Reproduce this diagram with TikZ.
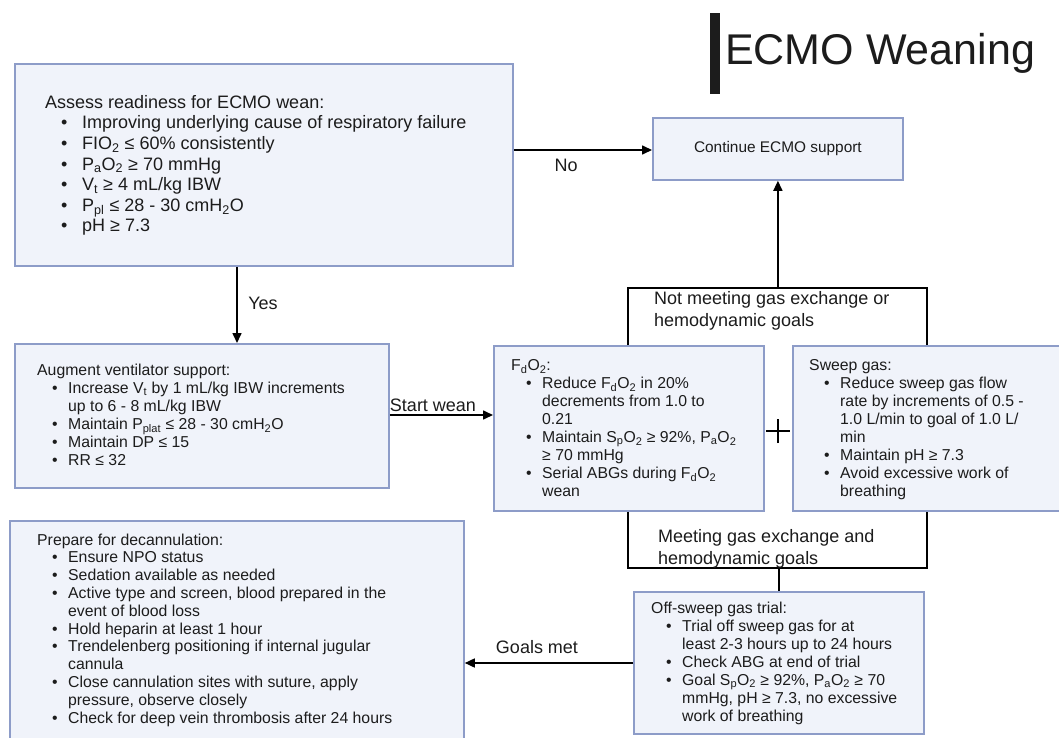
\documentclass[tikz,border=0pt]{standalone}
\usepackage{fontspec}
\setmainfont{Liberation Sans}
\usetikzlibrary{arrows.meta}
\definecolor{boxfill}{RGB}{240,243,250}
\definecolor{boxline}{RGB}{141,156,200}
\definecolor{ink}{RGB}{28,28,28}
\newlength\bulA
\newlength\bulB
\newcommand{\bul}{\makebox[\bulB][l]{\hspace*{\bulA}\textbullet}}
\newcommand{\bcont}{\hspace*{\bulB}}
\newcommand{\sbs}[1]{\textsubscript{#1}}
\begin{document}
\begin{tikzpicture}[x=1pt,y=-1pt,
  box/.style={draw=boxline, fill=boxfill, line width=1.8pt, inner sep=0pt, anchor=north west},
  conn/.style={line width=1.6pt, draw=black},
  arr/.style={conn, -{Triangle[length=10pt,width=9pt]}},
  lbl/.style={font=\fontsize{18}{21.5}\selectfont, inner sep=0pt, text=ink},
  lbltwo/.style={lbl, anchor=north west, align=left},
  bigtxt/.style={anchor=north west, inner sep=0pt, align=left, text=ink,
    font=\fontsize{18}{20.6}\selectfont,
    execute at begin node={\setlength\bulA{16pt}\setlength\bulB{37pt}}},
  smalltxt/.style={anchor=north west, inner sep=0pt, align=left, text=ink,
    font=\fontsize{15.8}{18}\selectfont,
    execute at begin node={\setlength\bulA{15pt}\setlength\bulB{31pt}}},
]
\useasboundingbox (0,0) rectangle (1059,738);
\fill[white] (0,0) rectangle (1059,738);
\clip (0,0) rectangle (1059,738);

% title
\node[fill=ink, minimum width=10pt, minimum height=81pt, inner sep=0pt, anchor=north west] (titlebar) at (710,13) {};
\node[anchor=base west, inner sep=0pt, font=\fontsize{43}{50}\selectfont, text=ink] (title) at (725,65) {ECMO Weaning};

% boxes
\node[box, minimum width=498pt, minimum height=202pt] (assess) at (14,63) {};
\node[box, minimum width=250pt, minimum height=62pt] (cont) at (652,117) {};
\node[box, minimum width=374pt, minimum height=144pt] (augment) at (14,343) {};
\node[box, minimum width=270pt, minimum height=165pt] (fdo) at (493,345) {};
\node[box, minimum width=280pt, minimum height=165pt] (sweep) at (792,345) {};
\node[box, minimum width=290pt, minimum height=142pt] (offsweep) at (633,591) {};
\node[box, minimum width=454pt, minimum height=230pt] (prep) at (9,520) {};

% box texts
\node[bigtxt] (assessT) at (45,93.6) {\strut Assess readiness for ECMO wean:\\
\bul Improving underlying cause of respiratory failure\\
\bul FIO\sbs{2} ≤ 60\% consistently\\
\bul P\sbs{a}O\sbs{2} ≥ 70 mmHg\\
\bul V\sbs{t} ≥ 4 mL/kg IBW\\
\bul P\sbs{pl} ≤ 28 - 30 cmH\sbs{2}O\\
\bul pH ≥ 7.3};

\node[anchor=center, inner sep=0pt, font=\fontsize{15.4}{18}\selectfont, text=ink] (contT) at (cont.center) {Continue ECMO support};

\node[smalltxt] (augmentT) at (37,362.5) {\strut Augment ventilator support:\\
\bul Increase V\sbs{t} by 1 mL/kg IBW increments\\
\bcont up to 6 - 8 mL/kg IBW\\
\bul Maintain P\sbs{plat} ≤ 28 - 30 cmH\sbs{2}O\\
\bul Maintain DP ≤ 15\\
\bul RR ≤ 32};

\node[smalltxt] (fdoT) at (511,357.5) {\strut F\sbs{d}O\sbs{2}:\\
\bul Reduce F\sbs{d}O\sbs{2} in 20\%\\
\bcont decrements from 1.0 to\\
\bcont 0.21\\
\bul Maintain S\sbs{p}O\sbs{2} ≥ 92\%, P\sbs{a}O\sbs{2}\\
\bcont ≥ 70 mmHg\\
\bul Serial ABGs during F\sbs{d}O\sbs{2}\\
\bcont wean};

\node[smalltxt] (sweepT) at (809,357.5) {\strut Sweep gas:\\
\bul Reduce sweep gas flow\\
\bcont rate by increments of 0.5 -\\
\bcont 1.0 L/min to goal of 1.0 L/\\
\bcont min\\
\bul Maintain pH ≥ 7.3\\
\bul Avoid excessive work of\\
\bcont breathing};

\node[smalltxt] (offsweepT) at (651,600.4) {\strut Off-sweep gas trial:\\
\bul Trial off sweep gas for at\\
\bcont least 2-3 hours up to 24 hours\\
\bul Check ABG at end of trial\\
\bul Goal S\sbs{p}O\sbs{2} ≥ 92\%, P\sbs{a}O\sbs{2} ≥ 70\\
\bcont mmHg, pH ≥ 7.3, no excessive\\
\bcont work of breathing};

\node[smalltxt, font=\fontsize{15.8}{17.8}\selectfont] (prepT) at (37,532.5) {\strut Prepare for decannulation:\\
\bul Ensure NPO status\\
\bul Sedation available as needed\\
\bul Active type and screen, blood prepared in the\\
\bcont event of blood loss\\
\bul Hold heparin at least 1 hour\\
\bul Trendelenberg positioning if internal jugular\\
\bcont cannula\\
\bul Close cannulation sites with suture, apply\\
\bcont pressure, observe closely\\
\bul Check for deep vein thrombosis after 24 hours};

% helper coordinates
\coordinate (noy) at (0,150);
\coordinate (yesx) at (237,0);
\coordinate (swy) at (0,415);
\coordinate (bl) at (628,0);
\coordinate (br) at (927,0);
\coordinate (nm) at (0,288);
\coordinate (mt) at (0,568);
\coordinate (gmy) at (0,663);
\coordinate (plus) at (778,431);

% connectors
\draw[arr] (assess.east |- noy) -- (cont.west |- noy);
\draw[arr] (assess.south -| yesx) -- (augment.north -| yesx);
\draw[arr] (augment.east |- swy) -- (fdo.west |- swy);
\draw[conn] (fdo.north -| bl) -- (bl |- nm) -- (br |- nm) -- (sweep.north -| br);
\draw[arr] (cont.south |- nm) -- (cont.south);
\draw[conn] (fdo.south -| bl) -- (bl |- mt) -- (br |- mt) -- (sweep.south -| br);
\draw[conn] (offsweep.north |- mt) -- (offsweep.north);
\draw[arr] (offsweep.west |- gmy) -- (prep.east |- gmy);

% plus sign
\draw[line width=1.6pt] ([xshift=-12pt]plus) -- ([xshift=12pt]plus);
\draw[line width=1.6pt] ([yshift=-12pt]plus) -- ([yshift=12pt]plus);

% labels
\node[lbl] (noL) at (566,165) {No};
\node[lbl] (yesL) at (263,303) {Yes};
\node[lbl] (swL) at (433,405) {Start wean};
\node[lbl] (gmL) at (537,647) {Goals met};
\node[lbltwo] (nmL) at (654,289.5) {\strut Not meeting gas exchange or\\hemodynamic goals};
\node[lbltwo] (mtL) at (658,527.5) {\strut Meeting gas exchange and\\hemodynamic goals};
\end{tikzpicture}
\end{document}
